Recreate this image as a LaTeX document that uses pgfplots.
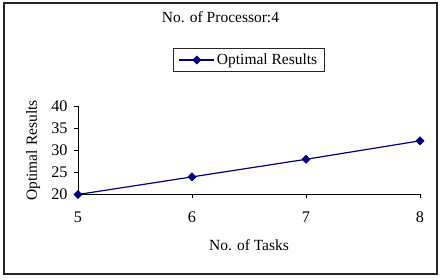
\documentclass[border=0pt]{standalone}
\usepackage{fontspec}
\setmainfont{Liberation Serif}
\usepackage{pgfplots}
\pgfplotsset{compat=1.18}
\definecolor{navy}{RGB}{0,0,128}
\newcommand{\cf}{\fontsize{15.5}{18}\selectfont}
\newcommand{\tf}{\fontsize{16.2}{18}\selectfont}
\begin{document}
\begin{tikzpicture}[x=1pt,y=1pt]
\useasboundingbox (0,0) rectangle (441,-280);
\draw[line width=2pt, black!85] (4,-3.5) rectangle (437,-274);
\begin{axis}[
  at={(78pt,-194.5pt)}, anchor=south west,
  scale only axis, width=342pt, height=88pt,
  xmin=5, xmax=8, ymin=20, ymax=40,
  axis x line=bottom, axis y line=left,
  axis line style={-, line width=1pt},
  xtick={5,6,7,8}, ytick={20,25,30,35,40},
  tick align=outside, major tick length=4pt,
  tick style={line width=1pt, black},
  /pgf/number format/assume math mode=true,
  tick label style={font=\tf},
  xticklabel style={yshift=-19pt, anchor=center},
  yticklabel style={xshift=-3pt},
  title={No. of Processor:4},
  title style={font=\cf, at={(axis description cs:0.4167,1.89)}, anchor=base},
  xlabel={No. of Tasks},
  xlabel style={font=\cf, at={(axis description cs:0.5,-0.636)}, anchor=base},
  ylabel={Optimal Results},
  ylabel style={font=\cf, at={(axis description cs:-0.12,0.5)}, anchor=base},
  legend style={font=\cf, at={(axis description cs:0.5,1.528)}, anchor=center,
    draw=black!85, line width=1.2pt, inner xsep=5.5pt, inner ysep=3.5pt},
  legend image code/.code={\draw[mark repeat=2,mark phase=2,#1] plot coordinates {(0pt,0pt) (17.5pt,0pt) (35pt,0pt)};},
  clip=false,
]
\addplot[navy, line width=1.2pt, mark=square*, mark size=2.9pt, mark options={rotate=45, fill=navy, line width=0.5pt}]
  coordinates {(5,20) (6,24) (7,28) (8,32.2)};
\addlegendentry{Optimal Results}
\end{axis}
\end{tikzpicture}
\end{document}
